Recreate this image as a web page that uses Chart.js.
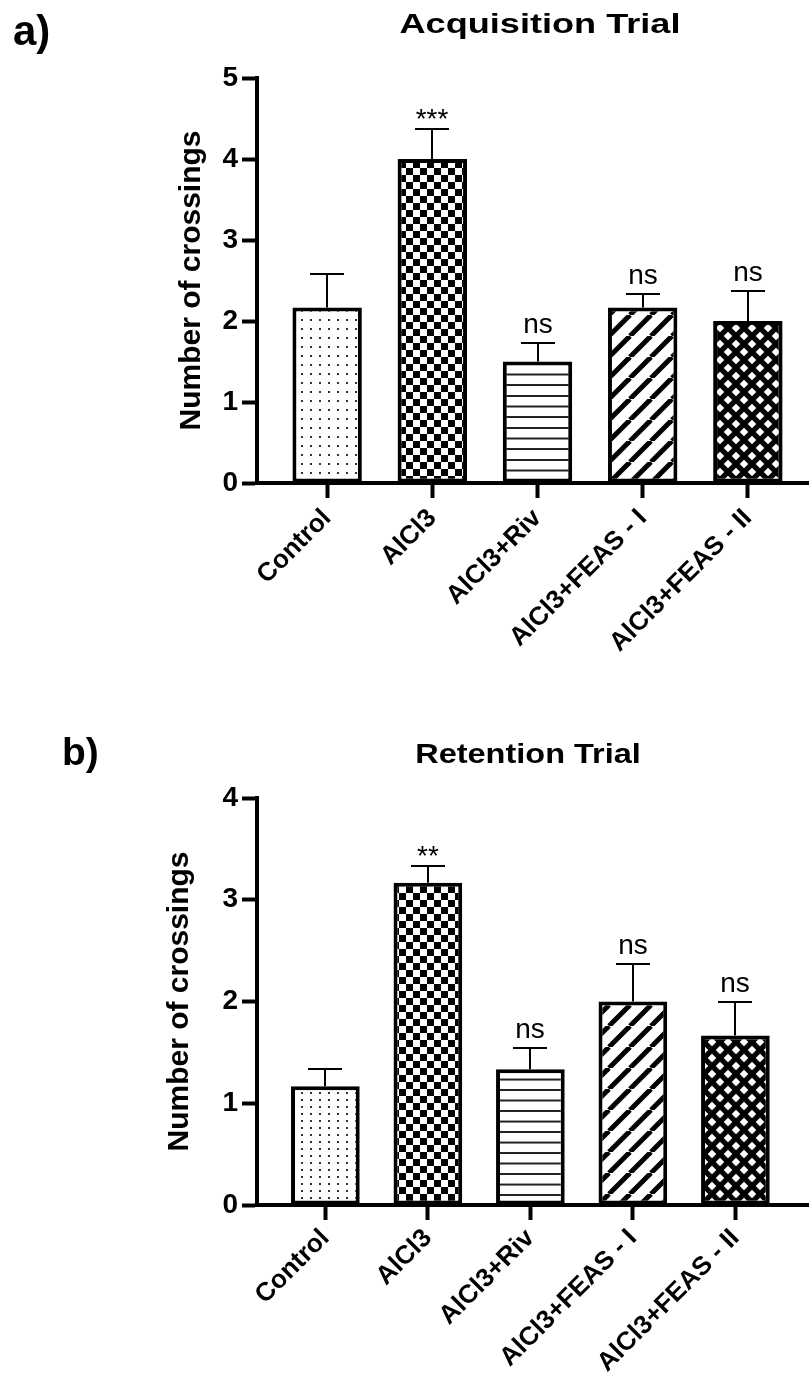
<!DOCTYPE html>
<html>
<head>
<meta charset="utf-8">
<script src="https://cdn.jsdelivr.net/npm/chart.js@4.4.1/dist/chart.umd.min.js"></script>
<style>
  html, body { margin: 0; padding: 0; background: #fff; overflow: hidden; width: 809px; height: 1376px; }
  canvas { position: absolute; left: 0; }
  #acq { top: 0; }
  #ret { top: 690px; }
</style>
</head>
<body>
<canvas id="acq" width="840" height="690"></canvas>
<canvas id="ret" width="840" height="686"></canvas>
<script>
// Treatment groups (x categories)
const groups = ['Control', 'AlCl3', 'AlCl3+Riv', 'AlCl3+FEAS - I', 'AlCl3+FEAS - II'];

// Acquisition trial: mean number of crossings and SEM
const acqMean = [2.167, 4.0, 1.5, 2.167, 2.0];
const acqSem  = [0.41, 0.365, 0.224, 0.167, 0.365];
const acqSig  = ['', '***', 'ns', 'ns', 'ns'];
const acqTicks = [0, 1, 2, 3, 4, 5];

// Retention trial: mean number of crossings and SEM
const retMean = [1.167, 3.167, 1.333, 2.0, 1.667];
const retSem  = [0.167, 0.167, 0.211, 0.365, 0.333];
const retSig  = ['', '**', 'ns', 'ns', 'ns'];
const retTicks = [0, 1, 2, 3, 4];

const FONT = "'Liberation Sans', Arial, Helvetica, sans-serif";
Chart.defaults.font.family = FONT;
Chart.defaults.color = '#000';

// ---- fill patterns for the bars ----
function tile(w, h, draw, scaleX, scaleY) {
  const c = document.createElement('canvas');
  c.width = w; c.height = h;
  const g = c.getContext('2d');
  g.fillStyle = '#fff'; g.fillRect(0, 0, w, h);
  g.fillStyle = '#000'; g.strokeStyle = '#000';
  draw(g, w, h);
  const p = g.createPattern(c, 'repeat');
  if ((scaleX && scaleX !== 1) || (scaleY && scaleY !== 1)) {
    p.setTransform(new DOMMatrix().scale(scaleX || 1, scaleY || 1));
  }
  return p;
}
function dots(dx, dy) {
  return tile(dx, dy, g => { g.fillStyle = '#333'; g.fillRect(Math.floor(dx / 2), Math.floor(dy / 2), 2, 2); });
}
function checker(s) {
  return tile(2 * s, 2 * s, g => { g.fillRect(0, 0, s, s); g.fillRect(s, s, s, s); });
}
function hlines(spacing) {
  // three lines per tile keeps the pitch fractional
  const h = Math.round(spacing * 3 * 4);
  return tile(8, h, g => {
    g.fillStyle = '#222';
    for (let k = 0; k < 3; k++) g.fillRect(0, Math.round(k * spacing * 4), 8, 8);
  }, 0.25, 0.25);
}
function stripes(T, lw) {
  return tile(T, T, g => {
    g.lineWidth = lw;
    for (let k = -1; k <= 1; k++) {
      g.beginPath(); g.moveTo(k * T, T); g.lineTo(k * T + T, 0); g.stroke();
    }
  });
}
function crosshatch(T, lw) {
  return tile(T, T, g => {
    g.lineWidth = lw;
    for (let k = -1; k <= 1; k++) {
      g.beginPath(); g.moveTo(k * T, T); g.lineTo(k * T + T, 0); g.stroke();
      g.beginPath(); g.moveTo(k * T, 0); g.lineTo(k * T + T, T); g.stroke();
    }
  });
}

// ---- error bars, significance marks, panel letter and title ----
function panelPlugin(cfg) {
  return {
    id: 'panelDecor',
    afterDatasetsDraw(chart) {
      const ctx = chart.ctx, xs = chart.scales.x, ys = chart.scales.y;
      ctx.save();
      ctx.strokeStyle = '#000';
      ctx.lineWidth = 2;
      cfg.means.forEach((m, i) => {
        const x = Math.round(xs.getPixelForValue(i));
        const yTop = ys.getPixelForValue(m);
        const yErr = Math.round(ys.getPixelForValue(m + cfg.sems[i]));
        ctx.beginPath();
        ctx.moveTo(x, yTop); ctx.lineTo(x, yErr);
        ctx.moveTo(x - 17, yErr); ctx.lineTo(x + 17, yErr);
        ctx.stroke();
        const s = cfg.sig[i];
        if (s) {
          ctx.fillStyle = '#000';
          ctx.textAlign = 'center';
          ctx.textBaseline = 'alphabetic';
          ctx.font = '28px ' + FONT;
          ctx.fillText(s, x, s[0] === '*' ? yErr - 1 : yErr - 10);
        }
      });
      ctx.restore();
    },
    afterDraw(chart) {
      const ctx = chart.ctx;
      ctx.save();
      ctx.fillStyle = '#000';
      ctx.textBaseline = 'alphabetic';
      ctx.textAlign = 'left';
      ctx.font = 'bold ' + cfg.tagSize + 'px ' + FONT;
      ctx.fillText(cfg.tag, cfg.tagX, cfg.tagY);
      ctx.translate(cfg.titleX, cfg.titleY);
      ctx.scale(cfg.titleStretch, 1);
      ctx.textAlign = 'center';
      ctx.font = 'bold ' + cfg.titleSize + 'px ' + FONT;
      ctx.fillText(cfg.title, 0, 0);
      ctx.restore();
    }
  };
}

function makeChart(id, p) {
  return new Chart(document.getElementById(id), {
    type: 'bar',
    data: {
      datasets: [{
        data: p.means.map((v, i) => ({ x: i, y: v })),
        backgroundColor: p.fills,
        borderColor: '#000',
        borderWidth: 4,
        borderSkipped: false,
        categoryPercentage: 1,
        barPercentage: p.barPct
      }]
    },
    options: {
      responsive: false,
      animation: false,
      layout: { padding: { top: p.padTop, right: p.padRight, bottom: 0, left: 0 } },
      plugins: { legend: { display: false }, tooltip: { enabled: false }, title: { display: false } },
      scales: {
        x: {
          type: 'linear',
          min: -0.667,
          max: p.xMax,
          offset: false,
          afterBuildTicks: s => { s.ticks = groups.map((g, i) => ({ value: i })); },
          afterFit: s => { s.height = p.xAxisH; },
          ticks: {
            autoSkip: false,
            includeBounds: false,
            minRotation: 45,
            maxRotation: 45,
            padding: p.xTickPad,
            font: { size: 26, weight: 'bold' },
            color: '#000',
            callback: v => groups[v]
          },
          grid: { display: true, offset: false, drawOnChartArea: false, drawTicks: true, tickLength: 15, tickWidth: 4, tickColor: '#000' },
          border: { display: true, color: '#000', width: 4 }
        },
        y: {
          min: 0,
          max: p.yTicks[p.yTicks.length - 1],
          afterBuildTicks: s => { s.ticks = p.yTicks.map(v => ({ value: v })); },
          afterFit: s => { s.width = 257; },
          ticks: { font: { size: 28, weight: 'bold' }, color: '#000', padding: 4 },
          grid: { display: true, drawOnChartArea: false, drawTicks: true, tickLength: 15, tickWidth: 4, tickColor: '#000' },
          border: { display: true, color: '#000', width: 4 },
          title: {
            display: true,
            text: 'Number of crossings',
            font: { size: 30, weight: 'bold' },
            color: '#000',
            padding: { top: p.yTitlePad, bottom: 0 }
          }
        }
      }
    },
    plugins: [panelPlugin(p.decor)]
  });
}

makeChart('acq', {
  means: acqMean,
  yTicks: acqTicks,
  xMax: 4.667,
  barPct: 0.66,
  padTop: 78,
  padRight: 22,
  xAxisH: 207,
  xTickPad: 5,
  yTitlePad: 174,
  fills: [dots(9, 9), checker(7), hlines(10.7), stripes(21, 5), crosshatch(16, 5.2)],
  decor: {
    means: acqMean, sems: acqSem, sig: acqSig,
    tag: 'a)', tagSize: 42, tagX: 13, tagY: 45,
    title: 'Acquisition Trial', titleSize: 28, titleStretch: 1.29, titleX: 540, titleY: 33
  }
});

makeChart('ret', {
  means: retMean,
  yTicks: retTicks,
  xMax: 4.806,
  barPct: 0.67,
  padTop: 108,
  padRight: 22,
  xAxisH: 171,
  xTickPad: 3,
  yTitlePad: 162,
  fills: [dots(9, 7), checker(7), hlines(10.5), stripes(21, 5), crosshatch(16, 5.2)],
  decor: {
    means: retMean, sems: retSem, sig: retSig,
    tag: 'b)', tagSize: 39, tagX: 62, tagY: 75,
    title: 'Retention Trial', titleSize: 28, titleStretch: 1.16, titleX: 528, titleY: 73
  }
});
</script>
</body>
</html>
